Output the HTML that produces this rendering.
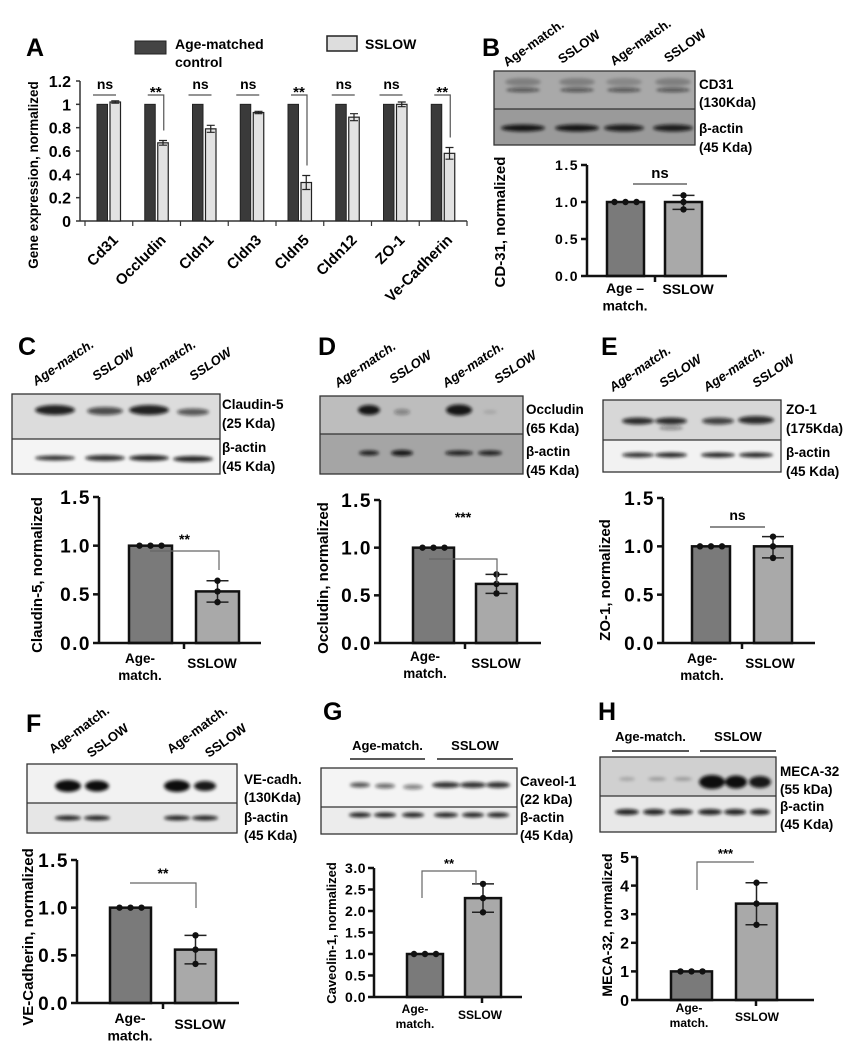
<!DOCTYPE html>
<html><head><meta charset="utf-8"><style>
html,body{margin:0;padding:0;background:#fff;}
svg{display:block;font-family:"Liberation Sans",Arial,sans-serif;font-weight:bold;}
</style></head><body>
<svg id="fig" width="853" height="1050" viewBox="0 0 853 1050" xmlns="http://www.w3.org/2000/svg">
<defs>
<filter id="blur" x="-50%" y="-100%" width="200%" height="300%"><feGaussianBlur stdDeviation="1.6"/></filter>
</defs>
<g id="root"></g>
</svg>
<script>
// ---------- Panel A data ----------
const aCategories = ["Cd31","Occludin","Cldn1","Cldn3","Cldn5","Cldn12","ZO-1","Ve-Cadherin"];
const aControl = [1,1,1,1,1,1,1,1];
const aSslow = [1.02,0.67,0.79,0.93,0.33,0.89,1.0,0.58];
const aSslowErr = [0.01,0.02,0.03,0.01,0.06,0.03,0.02,0.05];
const aSig = ["ns","**","ns","ns","**","ns","ns","**"];
const aTicks = [0,0.2,0.4,0.6,0.8,1,1.2];
const aTickLabels = ["0","0.2","0.4","0.6","0.8","1","1.2"];
// ---------- Blot-quant data ----------
const bMeans = [1.0, 1.0];
const bPoints = [[1,1,1],[1.09,1.0,0.9]];
const cMeans = [1.0, 0.53];
const cPoints = [[1,1,1],[0.64,0.53,0.42]];
const dMeans = [1.0, 0.62];
const dPoints = [[1,1,1],[0.72,0.62,0.52]];
const eMeans = [1.0, 1.0];
const ePoints = [[1,1,1],[1.1,1.0,0.88]];
const fMeans = [1.0, 0.56];
const fPoints = [[1,1,1],[0.71,0.56,0.41]];
const gMeans = [1.0, 2.3];
const gPoints = [[1,1,1],[2.63,2.3,1.97]];
const hMeans = [1.0, 3.37];
const hPoints = [[1,1,1],[4.1,3.37,2.63]];
const ticks15 = [0,0.5,1.0,1.5];
const ticks15Labels = ["0.0","0.5","1.0","1.5"];
const ticks30 = [0,0.5,1,1.5,2,2.5,3];
const ticks30Labels = ["0.0","0.5","1.0","1.5","2.0","2.5","3.0"];
const ticks5 = [0,1,2,3,4,5];
const ticks5Labels = ["0","1","2","3","4","5"];

const NS="http://www.w3.org/2000/svg";
const root=document.getElementById('root');
function el(tag,attrs,parent,txt){const e=document.createElementNS(NS,tag);for(const k in attrs)e.setAttribute(k,attrs[k]);if(txt!==undefined)e.textContent=txt;(parent||root).appendChild(e);return e;}

// ---------- Panel A ----------
(function(){
 const g=el('g',{});
 
 
 const x0=80,xEnd=467,y0=221,yTop=81,max=1.2,gx0=85,gw=47.75;
 const ys=v=>y0-(v/max)*(y0-yTop);
 const lt=el('text',{x:26,y:56,'font-size':25},g,'A');
 
 
 const l1=el('rect',{x:135,y:41,width:31,height:13,fill:'#444',stroke:'#222','stroke-width':1},g);
 
 
 const lt1=el('text',{x:175,y:50,'font-size':14},g);
 
 
 el('tspan',{x:175,y:49},lt1,'Age-matched');el('tspan',{x:175,y:67},lt1,'control');
 const l2=el('rect',{x:327,y:36,width:30,height:15,fill:'#ddd',stroke:'#222','stroke-width':1.5},g);
 
 
 const lt2=el('text',{x:365,y:49,'font-size':14},g,'SSLOW');
 
 
 el('line',{x1:x0,y1:yTop,x2:x0,y2:y0,stroke:'#333','stroke-width':1.5},g);
 el('line',{x1:x0,y1:y0,x2:xEnd,y2:y0,stroke:'#333','stroke-width':1.5},g);
 aTicks.forEach((t,i)=>{
  el('line',{x1:x0-4,y1:ys(t),x2:x0,y2:ys(t),stroke:'#333','stroke-width':1.5},g);
  const tl=el('text',{x:71,y:ys(t)+6,'font-size':16,'text-anchor':'end'},g,aTickLabels[i]);
  
  
 });
 for(let i=0;i<=aCategories.length;i++){el('line',{x1:gx0+i*gw,y1:y0,x2:gx0+i*gw,y2:y0+5,stroke:'#333','stroke-width':1.2},g);}
 const yt=el('text',{x:0,y:0,'font-size':13.5,'text-anchor':'middle',transform:'translate(38,175) rotate(-90)'},g,'Gene expression, normalized');
 
 
 aCategories.forEach((c,i)=>{
  const gs=gx0+i*gw;
  const b1=el('rect',{x:gs+12,y:ys(aControl[i]),width:10.5,height:y0-ys(aControl[i]),fill:'#3a3a3a',stroke:'#222','stroke-width':1},g);
  
  
  const b2=el('rect',{x:gs+25,y:ys(aSslow[i]),width:10.5,height:y0-ys(aSslow[i]),fill:'#e2e2e2',stroke:'#222','stroke-width':1.2},g);
  
  
  const cx=gs+30.25,hi=ys(aSslow[i]+aSslowErr[i]),lo=ys(aSslow[i]-aSslowErr[i]);
  const eb=el('path',{d:`M${cx} ${hi}V${lo}M${cx-4} ${hi}H${cx+4}M${cx-4} ${lo}H${cx+4}`,stroke:'#222','stroke-width':1.2,fill:'none'},g);
  
  
  const by=95;
  if(aSig[i]==='ns'){
   el('line',{x1:gs+8,y1:by,x2:gs+31,y2:by,stroke:'#555','stroke-width':1.2},g);
   const st=el('text',{x:gs+20,y:by-6,'font-size':14,'text-anchor':'middle'},g,'ns');
   
   
  } else {
   el('path',{d:`M${gs+15} ${by}H${gs+31}V${hi-10}`,stroke:'#555','stroke-width':1.2,fill:'none'},g);
   const st=el('text',{x:gs+23,y:by+2,'font-size':15,'text-anchor':'middle'},g,'**');
   
   
  }
  const xl=el('text',{x:0,y:0,'font-size':15,'text-anchor':'end',transform:`translate(${gs+34},${y0+20}) rotate(-45)`},g,c);
  
  
 });
})();

function blot(name,x,y,w,h,div,bgTop,bgBot,bands,border){
 const g=el('g',{});
 
 
 el('rect',{x:x,y:y,width:w,height:div-y,fill:bgTop},g);
 el('rect',{x:x,y:div,width:w,height:y+h-div,fill:bgBot},g);
 const bg=el('g',{filter:'url(#blur)'},g);
 bands.forEach(b=>el('ellipse',{cx:b[0],cy:b[1],rx:b[2],ry:b[3],fill:'#111','fill-opacity':b[4]},bg));
 el('rect',{x:x,y:y,width:w,height:h,fill:'none',stroke:border||'#333','stroke-width':1.3},g);
 el('line',{x1:x,y1:div,x2:x+w,y2:div,stroke:border||'#333','stroke-width':1.3},g);
}
function labels(x,ys,texts,size,font){
 texts.forEach((t,i)=>{
  const e=el('text',{x:x,y:ys[i],'font-size':size,'font-family':font||'"Liberation Sans",sans-serif'},root,t);
  
  
 });
}
function lanes(starts,y,texts,size,italic,ang){
 starts.forEach((sx,i)=>{
  const e=el('text',{x:0,y:0,'font-size':size,'font-style':italic?'italic':'normal',transform:`translate(${sx},${y[i]}) rotate(${ang})`},root,texts[i]);
  
  
 });
}
function letter(t,x,y){const e=el('text',{x:x,y:y,'font-size':25},root,t);}
const AM="Age-match.",SS="SSLOW";
letter('B',482,56);
lanes([507,562,614,668],[67,64,66,63],[AM,SS,AM,SS],13,false,-35);
blot('blot-b',494,71,201,74,109,'#a9a9a9','#9a9a9a',[[523,90,17,2,0.6],[577,90,17,2,0.6],[624,90,17,2,0.6],[673,90,17,2,0.6],[523,82,18,4,0.25],[577,82,18,4,0.25],[624,82,18,4,0.2],[673,82,18,4,0.25],[523,128,22,3.5,0.95],[577,128,22,3.5,0.95],[624,128,20,3.5,0.9],[673,128,20,3.5,0.9]]);
labels(699,[89,107,133,152],['CD31','(130Kda)','β-actin','(45 Kda)'],13.5);
letter('C',18,355);
lanes([36,96,138,193],[386,381,386,381],[AM,SS,AM,SS],13,true,-34);
blot('blot-c',12,394,208,80,439,'#dcdcdc','#f4f4f4',[[55,410,20,5,0.9],[105,411,18,4,0.7],[149,410,20,5,0.9],[193,412,16,3.5,0.65],[55,458,20,2.5,0.85],[105,458,20,3,0.85],[149,458,20,3,0.9],[193,459,20,3,0.9]]);
labels(222,[409,428,452,471],['Claudin-5','(25 Kda)','β-actin','(45 Kda)'],13.5);
letter('D',318,355);
lanes([338,393,446,498],[388,384,388,384],[AM,SS,AM,SS],13,true,-34);
blot('blot-d',320,396,203,78,434,'#bdbdbd','#a5a5a5',[[369,410,11,5,0.95],[402,412,8,3,0.35],[459,410,13,5.5,0.95],[490,412,7,2,0.12],[369,453,10,2.5,0.9],[402,453,11,3,0.95],[459,453,14,2.5,0.9],[490,453,12,2.5,0.9]]);
labels(526,[414,433,456,475],['Occludin','(65 Kda)','β-actin','(45 Kda)'],13.5);
letter('E',601,355);
lanes([613,663,707,756],[392,388,392,388],[AM,SS,AM,SS],13,true,-34);
blot('blot-e',603,400,178,72,440,'#d7d7d7','#f2f2f2',[[638,421,16,3.5,0.85],[671,421,16,3.5,0.85],[718,421,16,3.5,0.75],[756,420,18,4,0.85],[671,428,12,2,0.4],[638,455,16,2.5,0.85],[671,455,16,2.5,0.9],[718,455,17,2.5,0.9],[756,455,17,2.5,0.9]]);
labels(786,[414,433,457,476],['ZO-1','(175Kda)','β-actin','(45 Kda)'],13.5);
letter('F',26,732);
lanes([53,91,171,209],[754,758,754,758],[AM,SS,AM,SS],13,false,-36);
blot('blot-f',27,764,210,69,803,'#f2f2f2','#e6e6e6',[[68,786,13,6,1],[97,786,12,5.5,1],[177,786,13,6,1],[205,786,11,5,0.95],[68,818,13,2.5,0.9],[97,818,13,2.5,0.9],[177,818,13,2.5,0.9],[205,818,13,2.5,0.9]]);
labels(244,[784,802,822,840],['VE-cadh.','(130Kda)','β-actin','(45 Kda)'],13.5);
letter('G',323,720);
function header(x1,x2,y,ly,t){const e=el('text',{x:(x1+x2)/2,y:y,'font-size':13,'text-anchor':'middle'},root,t);el('line',{x1:x1,y1:ly,x2:x2,y2:ly,stroke:'#222','stroke-width':1.5});}
header(350,425,750,759,AM);header(437,513,750,759,SS);
blot('blot-g',321,768,196,66,807,'#f4f4f4','#ececec',[[360,785,10,2.5,0.7],[385,786,10,2.5,0.6],[413,787,10,2.5,0.5],[446,785,14,3,0.85],[473,785,13,3,0.85],[498,785,12,3,0.85],[360,815,11,2.5,0.9],[385,815,11,2.5,0.9],[413,815,11,2.5,0.9],[446,815,12,2.5,0.9],[473,815,11,2.5,0.9],[498,815,11,2.5,0.9]]);
labels(520,[786,804,822,840],['Caveol-1','(22 kDa)','β-actin','(45 Kda)'],13.5);
letter('H',598,720);
header(612,689,741,751,AM);header(700,776,741,751,SS);
blot('blot-h',600,757,176,75,796,'#d0d0d0','#e8e8e8',[[627,779,8,2,0.2],[657,779,9,2,0.25],[683,779,9,2,0.25],[712,782,13,7,1],[736,782,11,6.5,1],[760,782,11,6,0.95],[627,812,12,3,0.9],[654,812,11,3,0.9],[681,812,12,3,0.9],[710,812,12,3,0.9],[735,812,11,3,0.9],[760,812,10,3,0.9]]);
labels(780,[776,794,811,829],['MECA-32','(55 kDa)','β-actin','(45 Kda)'],13.5);

function quant(o){
 const g=el('g',{});
 
 
 const ys=v=>o.y0-(v/o.max)*(o.y0-o.yTop);
 const fills=['#7a7a7a','#a9a9a9'];
 o.means.forEach((m,i)=>{
  const b=el('rect',{x:o.barX[i],y:ys(m),width:o.barW,height:o.y0-ys(m),fill:fills[i],stroke:'#111','stroke-width':2.5},g);
  
  
  const cx=o.barX[i]+o.barW/2;const pts=o.points[i];
  if(i===0){
   pts.forEach((p,k)=>{const d=el('circle',{cx:cx+(k-1)*11,cy:ys(p),r:3.2,fill:'#111'},g);});
  } else {
   const hi=ys(Math.max(...pts)),lo=ys(Math.min(...pts));
   const eb=el('path',{d:`M${cx} ${hi}V${lo}M${cx-11} ${hi}H${cx+11}M${cx-11} ${lo}H${cx+11}`,stroke:'#222','stroke-width':1.5,fill:'none'},g);
   
   
   pts.forEach(p=>{const d=el('circle',{cx:cx,cy:ys(p),r:3.2,fill:'#111'},g);});
  }
 });
 el('line',{x1:o.x0,y1:o.yTop,x2:o.x0,y2:o.y0+1,stroke:'#111','stroke-width':2.5},g);
 el('line',{x1:o.x0,y1:o.y0,x2:o.xEnd,y2:o.y0,stroke:'#111','stroke-width':2.5},g);
 el('line',{x1:o.midTick,y1:o.y0,x2:o.midTick,y2:o.y0+6,stroke:'#111','stroke-width':2.5},g);
 o.ticks.forEach((t,i)=>{
  el('line',{x1:o.x0-6,y1:ys(t),x2:o.x0,y2:ys(t),stroke:'#111','stroke-width':2.5},g);
  const tl=el('text',{x:o.x0-8,y:ys(t)+o.tfs*0.36,'font-size':o.tfs,'text-anchor':'end','letter-spacing':o.ls||0},g,o.tickLabels[i]);
  
  
 });
 const yt=el('text',{x:0,y:0,'font-size':o.titleSize,'text-anchor':'middle','letter-spacing':o.tls||0,transform:`translate(${o.titleX},${o.titleY}) rotate(-90)`},g,o.title);
 
 
 const xa=el('text',{x:o.xl[0],y:o.xl[1],'font-size':o.xfs,'text-anchor':'middle'},g);
 
 
 el('tspan',{x:o.xl[0],y:o.xl[1]},xa,o.ageTop);el('tspan',{x:o.xl[0],y:o.xl[1]+o.xfs*1.25},xa,'match.');
 const xs=el('text',{x:o.xl[2],y:o.xl[3],'font-size':o.xfs,'text-anchor':'middle'},g,'SSLOW');
 
 
 const s=o.sig;
 if(s.type==='ns'){el('line',{x1:s.x1,y1:s.y,x2:s.x2,y2:s.y,stroke:'#666','stroke-width':1.5},g);}
 else{el('path',{d:`M${s.x1} ${s.d1}V${s.y}H${s.x2}V${s.d2}`,stroke:'#666','stroke-width':1.2,fill:'none'},g);}
 const st=el('text',{x:(s.x1+s.x2)/2,y:s.ty,'font-size':s.fs,'text-anchor':'middle'},g,s.label);
 
 
}
quant({name:'panel-b-chart',x0:587,xEnd:727,y0:276,yTop:165,max:1.5,barX:[607,665],barW:37,means:bMeans,points:bPoints,ticks:ticks15,tickLabels:ticks15Labels,tfs:14,ls:1.5,midTick:655,title:'CD-31, normalized',titleSize:15,titleX:505,titleY:222,xl:[625,293,688,294],xfs:14,ageTop:'Age –',sig:{type:'ns',x1:633,x2:687,y:184,ty:178,fs:15,label:'ns'}});
quant({name:'panel-c-chart',x0:99,xEnd:261,y0:643,yTop:497,max:1.5,barX:[129,196],barW:43,means:cMeans,points:cPoints,ticks:ticks15,tickLabels:ticks15Labels,tfs:19,ls:1.5,midTick:184,title:'Claudin-5, normalized',titleSize:15,titleX:42,titleY:575,xl:[140,663,212,668],xfs:13.5,ageTop:'Age-',sig:{type:'b',x1:150,x2:219,y:551,d1:551,d2:570,ty:544,fs:14,label:'**'}});
quant({name:'panel-d-chart',x0:380,xEnd:541,y0:643,yTop:500,max:1.5,barX:[413,476],barW:41,means:dMeans,points:dPoints,ticks:ticks15,tickLabels:ticks15Labels,tfs:19,ls:1.5,midTick:465,title:'Occludin, normalized',titleSize:15,titleX:328,titleY:578,xl:[425,661,496,668],xfs:13.5,ageTop:'Age-',sig:{type:'b',x1:429,x2:497,y:559,d1:559,d2:583,ty:522,fs:14,label:'***'}});
quant({name:'panel-e-chart',x0:663,xEnd:815,y0:643,yTop:498,max:1.5,barX:[692,754],barW:38,means:eMeans,points:ePoints,ticks:ticks15,tickLabels:ticks15Labels,tfs:19,ls:1.5,midTick:742,title:'ZO-1, normalized',titleSize:15,titleX:610,titleY:580,xl:[702,663,770,668],xfs:13.5,ageTop:'Age-',sig:{type:'ns',x1:710,x2:765,y:527,ty:520,fs:14,label:'ns'}});
quant({name:'panel-f-chart',x0:77,xEnd:239,y0:1003,yTop:860,max:1.5,barX:[110,175],barW:41,means:fMeans,points:fPoints,ticks:ticks15,tickLabels:ticks15Labels,tfs:19,ls:1.5,midTick:163,title:'VE-Cadherin, normalized',titleSize:15,titleX:33,titleY:937,xl:[130,1023,200,1029],xfs:14,ageTop:'Age-',sig:{type:'b',x1:130,x2:196,y:883,d1:883,d2:908,ty:878,fs:14,label:'**'}});
quant({name:'panel-g-chart',x0:374,xEnd:522,y0:997,yTop:868,max:3,barX:[407,465],barW:36,means:gMeans,points:gPoints,ticks:ticks30,tickLabels:ticks30Labels,tfs:14,ls:0.5,midTick:482,title:'Caveolin-1, normalized',titleSize:13,titleX:336,titleY:933,xl:[415,1013,480,1019],xfs:12,ageTop:'Age-',sig:{type:'b',x1:422,x2:476,y:871,d1:898,d2:884,ty:868,fs:13,label:'**'}});
quant({name:'panel-h-chart',x0:637,xEnd:814,y0:1000,yTop:857,max:5,barX:[671,736],barW:41,means:hMeans,points:hPoints,ticks:ticks5,tickLabels:ticks5Labels,tfs:16,ls:0,midTick:756,title:'MECA-32, normalized',titleSize:14,titleX:612,titleY:925,xl:[689,1012,757,1021],xfs:12,ageTop:'Age-',sig:{type:'b',x1:697,x2:754,y:862,d1:890,d2:862,ty:858,fs:13,label:'***'}});
</script>
</body></html>
